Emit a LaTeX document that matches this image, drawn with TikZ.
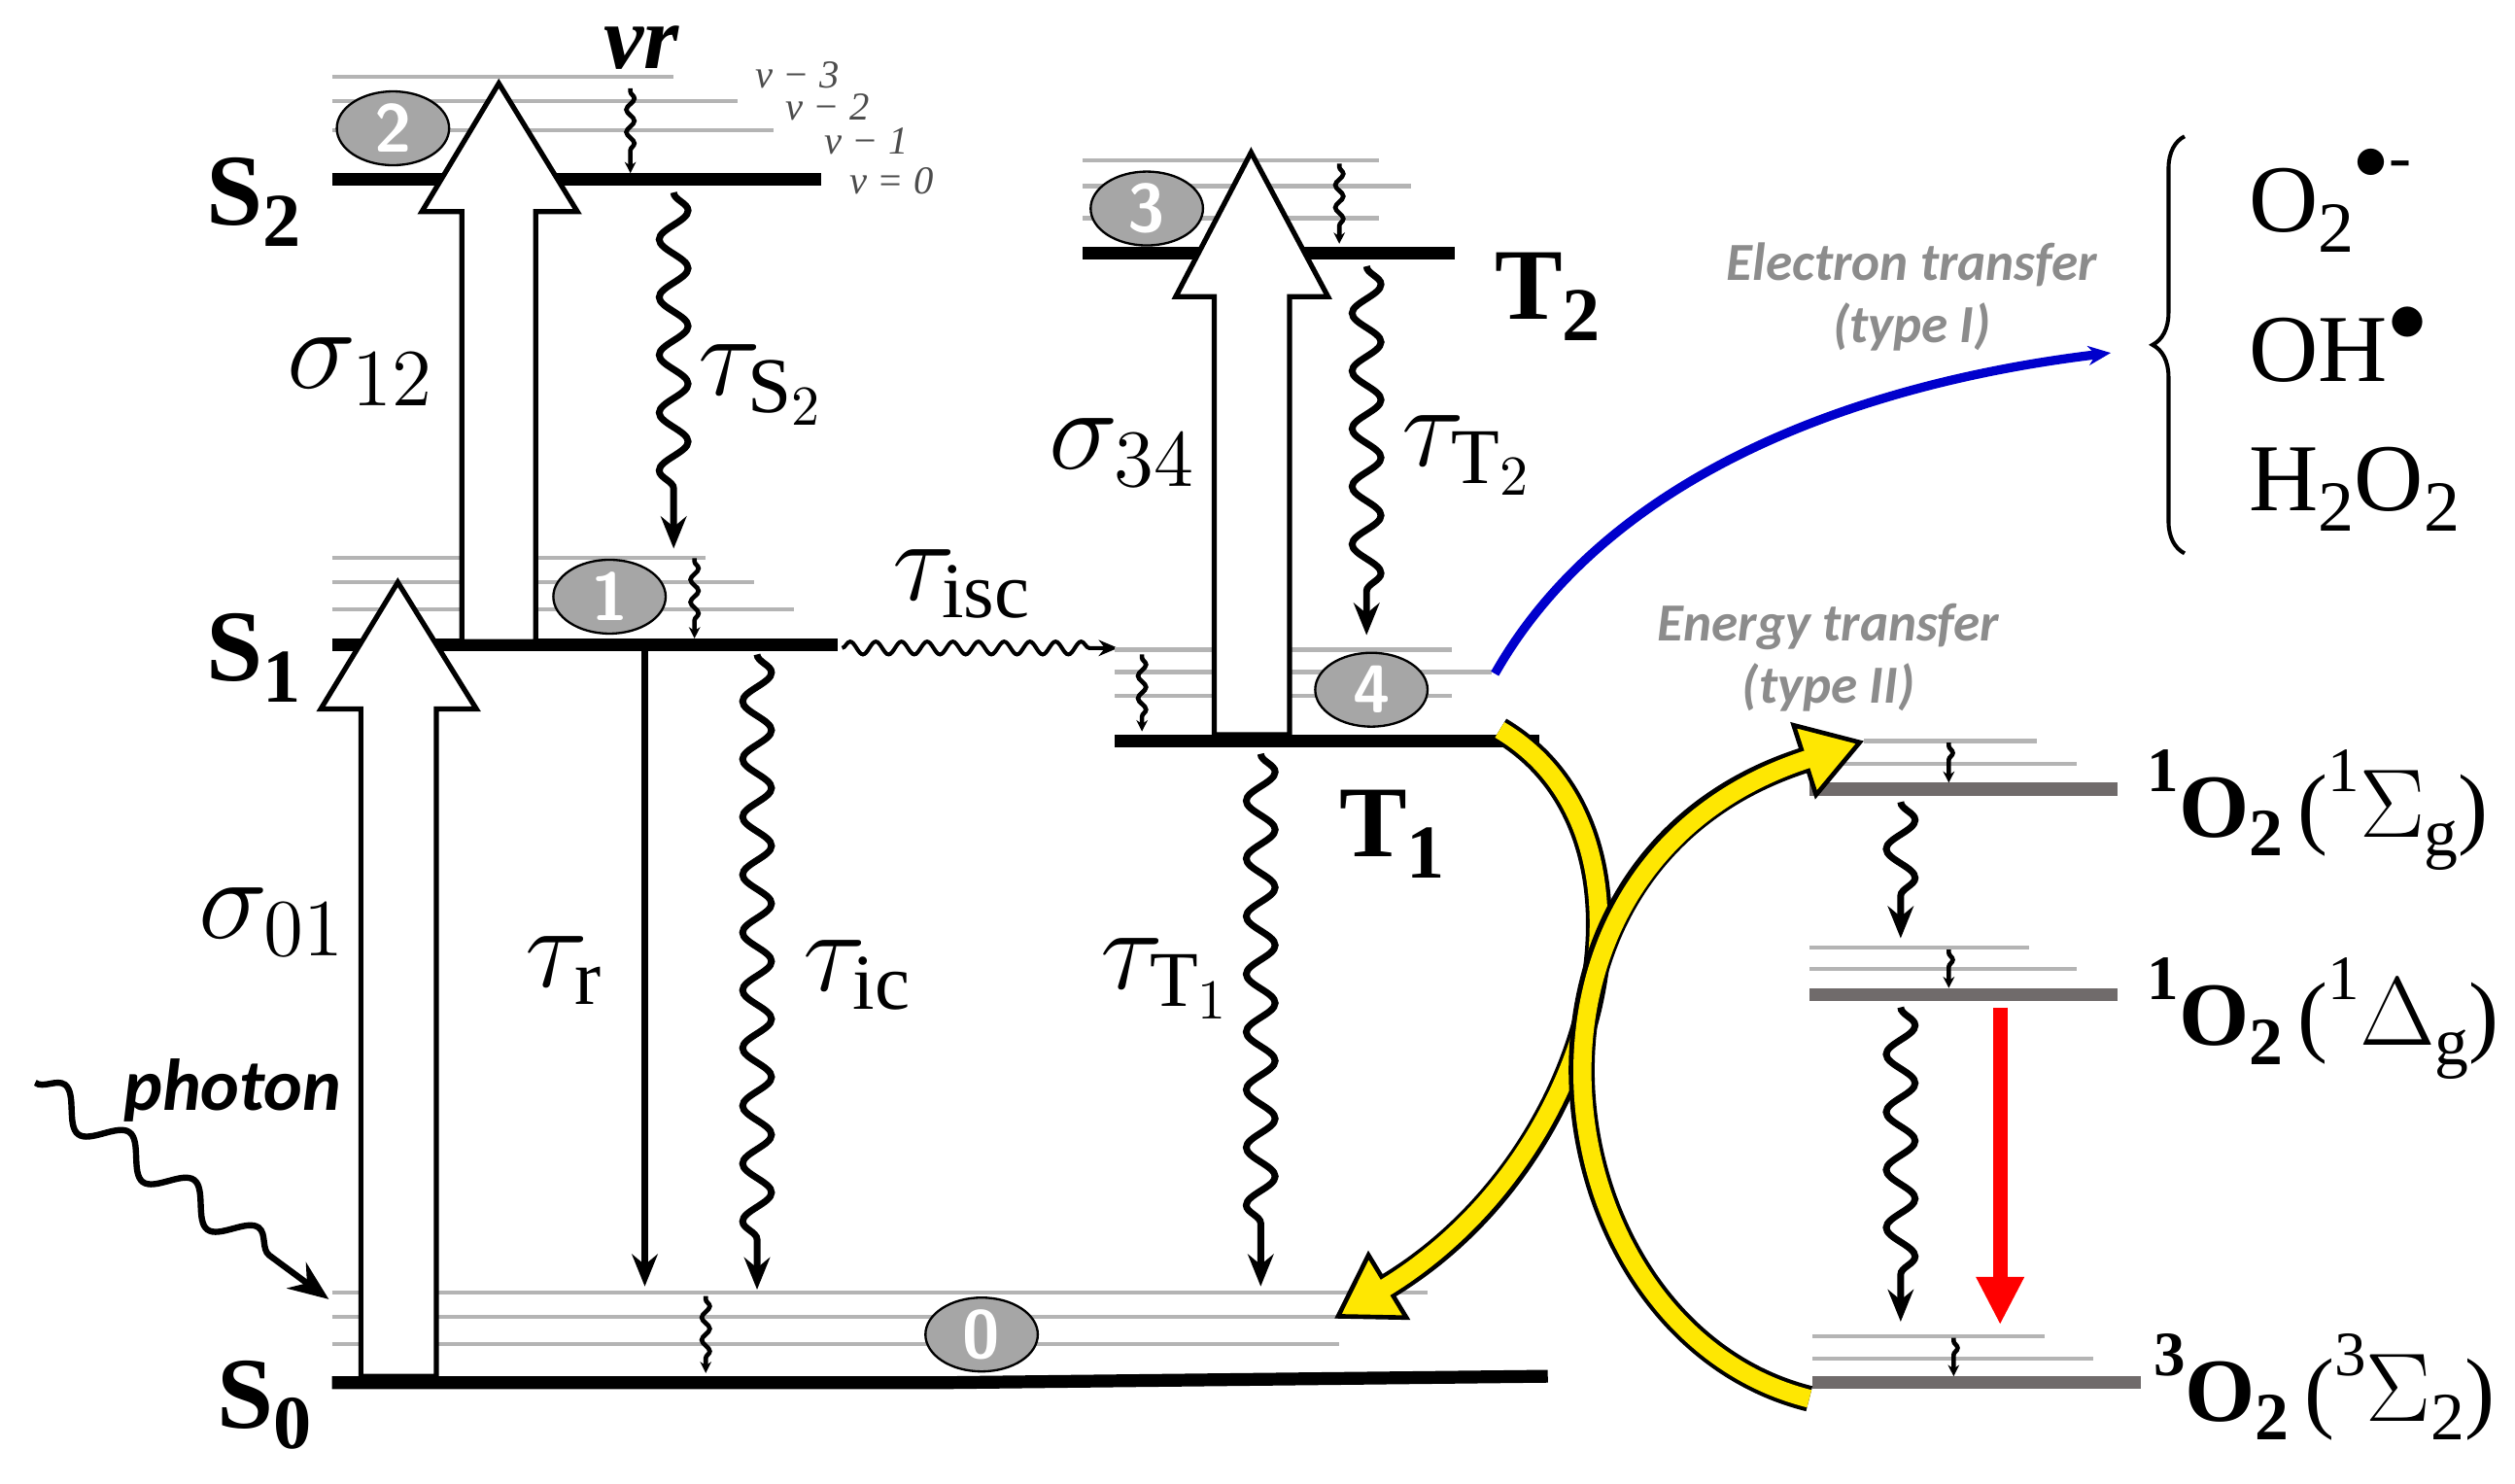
\documentclass[tikz,border=0pt]{standalone}
\usepackage{fontspec}
\setmainfont{Liberation Serif}
\newfontfamily\carl{Carlito}
\usetikzlibrary{decorations.pathmorphing,decorations.pathreplacing,arrows.meta,shapes.geometric}
\newcommand\lsub[1]{\raisebox{-0.45ex}{\scalebox{0.75}{#1}}}
\newcommand\lsup[1]{\raisebox{1.1ex}{\scalebox{0.7}{#1}}}
\definecolor{og}{HTML}{706B6B}
\definecolor{lg}{HTML}{B4B4B4}
\definecolor{tg}{HTML}{8C8C8C}
\definecolor{cg}{HTML}{A6A6A6}
\begin{document}
\begin{tikzpicture}[x=0.01cm,y=-0.01cm,
 lvl/.style={line width=0.08cm},
 olvl/.style={og,line width=0.08cm},
 sub/.style={lg,line width=0.025cm},
 big/.style={draw=black,fill=white,line width=0.9pt},
 circ/.style={ellipse,draw=black,fill=cg,inner sep=0pt,minimum width=0.7cm,minimum height=0.46cm,text=white,font=\sffamily\bfseries\fontsize{12}{12}\selectfont},
 wave/.style={decorate,decoration={snake,amplitude=0.09cm,segment length=0.36cm,post length=0.22cm},line width=1.2pt,-{Stealth[length=0.2cm,width=0.16cm]}},
 vr/.style={decorate,decoration={snake,amplitude=0.025cm,segment length=0.14cm,post length=0.08cm,pre length=0.02cm},line width=0.8pt,-{Stealth[length=0.07cm,width=0.07cm]}},
 lab/.style={font=\bfseries\fontsize{18}{20}\selectfont},
 olab/.style={anchor=west,inner sep=0pt,font=\bfseries\fontsize{16}{18}\selectfont},
 gk/.style={font=\fontsize{20}{22}\selectfont},
 nu/.style={inner sep=0pt,font=\itshape\fontsize{7}{8}\selectfont,text=black!70},
 et/.style={font=\carl\bfseries\itshape\fontsize{9.5}{11}\selectfont,text=tg,align=center},
 yel/.style={line width=4.6pt,black},
 yelin/.style={line width=3.2pt,yellow!90!orange}
]
\useasboundingbox (0,0) rectangle (1568,925);
% ---- S2
\draw[sub] (207,48) -- (420,48); \draw[sub] (207,63) -- (460,63); \draw[sub] (207,81) -- (482,81);
\draw[lvl] (207,112) -- (512,112);
\node[nu] (n3) at (497,47) {ν − 3};
\node[nu] (n2) at (516,67) {ν − 2};
\node[nu] (n1) at (540,88) {ν − 1};
\node[nu] (n0) at (556,113) {ν = 0};
\node (vrl) at (400,30) {\bfseries\itshape\fontsize{16}{16}\selectfont vr};
\draw[vr] (393,55) -- (393,108);
\node[circ] (c2) at (245,80) {2};
\node[lab] (S2) at (158,126) {S\lsub{2}};
% ---- S1
\draw[sub] (207,348) -- (440,348); \draw[sub] (207,363) -- (470,363); \draw[sub] (207,380) -- (495,380);
\draw[lvl] (207,402) -- (522,402);
\draw[vr] (433,348) -- (433,398);
\node[lab] (S1) at (158,410) {S\lsub{1}};
% ---- S0
\draw[sub] (207,806) -- (890,806); \draw[sub] (207,821) -- (870,821); \draw[sub] (207,838) -- (835,838);
\draw[lvl] (207,862) -- (590,862) -- (965,858);
\draw[vr] (440,808) -- (440,856);
\node[lab] (S0) at (165,876) {S\lsub{0}};
\node[circ] (c0) at (612,832) {0};
% ---- sigma01 arrow
\draw[big] (225,858) -- (225,442) -- (200,442) -- (248,363) -- (297,442) -- (272,442) -- (272,858) -- cycle;
% ---- sigma12 arrow
\draw[big] (288,400) -- (288,132) -- (263,132) -- (311,52) -- (360,132) -- (334,132) -- (334,400) -- cycle;
\node[circ] (c1) at (380,372) {1};
\node[gk] (s12) at (225,232) {$\sigma_{12}$};
\node[gk] (s01) at (170,575) {$\sigma_{01}$};
% ---- S1/S2 processes
\coordinate (a1) at (420,120); \coordinate (a2) at (420,342);
\draw[wave] (a1) -- (a2);
\node[gk] (tS2) at (475,240) {$\tau_{\mathrm{S}_2}$};
\coordinate (r1) at (402,406); \coordinate (r2) at (402,802);
\draw[line width=1.2pt,-{Stealth[length=0.2cm,width=0.16cm]}] (r1) -- (r2);
\node[gk] (tr) at (352,605) {$\tau_{\mathrm{r}}$};
\coordinate (i1) at (472,408); \coordinate (i2) at (472,804);
\draw[wave] (i1) -- (i2);
\node[gk] (tic) at (535,608) {$\tau_{\mathrm{ic}}$};
\coordinate (s1) at (525,404); \coordinate (s2) at (697,404);
\draw[decorate,decoration={snake,amplitude=0.04cm,segment length=0.16cm,post length=0.12cm},line width=0.7pt,-{Stealth[length=0.12cm,width=0.1cm]}] (s1) -- (s2);
\node[gk] (tisc) at (600,364) {$\tau_{\mathrm{isc}}$};
% ---- photon
\coordinate (p1) at (22,675); \coordinate (p2) at (205,810);
\draw[decorate,decoration={snake,amplitude=0.1cm,segment length=0.5cm,post length=0.3cm},line width=1.1pt,-{Stealth[length=0.25cm,width=0.2cm]}] (p1) -- (p2);
\node (ph) at (145,680) {\carl\bfseries\itshape\fontsize{13}{14}\selectfont photon};
% ---- T2
\draw[sub] (675,100) -- (860,100); \draw[sub] (675,116) -- (880,116); \draw[sub] (675,136) -- (860,136);
\draw[lvl] (675,158) -- (907,158);
\draw[vr] (835,102) -- (835,152);
\node[lab] (T2) at (965,185) {T\lsub{2}};
% ---- T1
\draw[sub] (695,405) -- (905,405); \draw[sub] (695,419) -- (930,419); \draw[sub] (695,434) -- (905,434);
\draw[lvl] (695,462) -- (960,462);
\draw[vr] (712,408) -- (712,456);
\node[lab] (T1) at (868,520) {T\lsub{1}};
% ---- sigma34 arrow
\draw[big] (757,458) -- (757,185) -- (733,185) -- (780,95) -- (828,185) -- (804,185) -- (804,458) -- cycle;
\node[circ] (c3) at (715,130) {3};
\node[circ] (c4) at (855,430) {4};
\node[gk] (s34) at (700,282) {$\sigma_{34}$};
\coordinate (t21) at (852,166); \coordinate (t22) at (852,396);
\draw[wave] (t21) -- (t22);
\node[gk] (tT2) at (915,284) {$\tau_{\mathrm{T}_2}$};
\coordinate (t11) at (786,470); \coordinate (t12) at (786,802);
\draw[wave] (t11) -- (t12);
\node[gk] (tT1) at (727,610) {$\tau_{\mathrm{T}_1}$};
% ---- electron transfer
\coordinate (b1) at (932,420); \coordinate (b2) at (1316,220);
\draw[blue!80!black,line width=1.6pt,-{Stealth[length=0.14cm,width=0.12cm]}] (b1) .. controls (1000,300) and (1150,240) .. (b2);
\node[et] (etl) at (1192,185) {Electron transfer\\(type I)};
\draw[decorate,decoration={brace,amplitude=0.2cm},line width=0.7pt] (1362,345) -- (1362,85);
\node[anchor=west,font=\fontsize{17}{18}\selectfont] (o2r) at (1390,125) {O\lsub{2}\raisebox{1.2ex}{\scalebox{0.7}{$\bullet$-}}};
\node[anchor=west,font=\fontsize{17}{18}\selectfont] (oh) at (1390,215) {OH\raisebox{0.9ex}{\scalebox{0.8}{$\bullet$}}};
\node[anchor=west,font=\fontsize{17}{18}\selectfont] (h2o2) at (1390,305) {H\lsub{2}O\lsub{2}};
% ---- energy transfer
\node[et] (enl) at (1140,410) {Energy transfer\\(type II)};
% O2 levels
\draw[sub] (1162,462) -- (1270,462); \draw[sub] (1128,476) -- (1295,476);
\draw[olvl] (1128,492) -- (1320,492);
\draw[vr] (1215,463) -- (1215,488);
\node[olab] (sg) at (1338,505) {\lsup{1}O\lsub{2}\mdseries\,(\lsup{1}$\Sigma$\lsub{g})};
\draw[sub] (1128,591) -- (1265,591); \draw[sub] (1128,604) -- (1295,604);
\draw[olvl] (1128,620) -- (1320,620);
\draw[vr] (1215,592) -- (1215,616);
\node[olab] (dg) at (1338,635) {\lsup{1}O\lsub{2}\mdseries\,(\lsup{1}$\Delta$\lsub{g})};
\draw[sub] (1130,833) -- (1275,833); \draw[sub] (1130,847) -- (1305,847);
\draw[olvl] (1130,862) -- (1335,862);
\draw[vr] (1218,834) -- (1218,858);
\node[olab] (tsg) at (1342,865) {\lsup{3}O\lsub{2}\mdseries\,(\lsup{3}$\Sigma$\lsub{2})};
\coordinate (w1) at (1185,500); \coordinate (w2) at (1185,585);
\draw[wave] (w1) -- (w2);
\coordinate (w3) at (1185,628); \coordinate (w4) at (1185,824);
\draw[wave] (w3) -- (w4);
\coordinate (rd1) at (1247,628); \coordinate (rd2) at (1247,826);
\draw[red,line width=2.6pt,-{Triangle[length=0.3cm,width=0.28cm]}] (rd1) -- (rd2);
% ---- yellow arrows
\coordinate (y1) at (935,455); \coordinate (y2) at (832,822);
\coordinate (y3) at (1128,872); \coordinate (y4) at (1162,462);
\draw[yel,-{Triangle[length=0.4cm,width=0.5cm,line width=0.8pt,fill=yellow!90!orange]}] (y1) .. controls (1045,520) and (1000,720) .. (y2);
\draw[yelin,shorten >=0.36cm] (y1) .. controls (1045,520) and (1000,720) .. (y2);
\draw[yel,-{Triangle[length=0.4cm,width=0.5cm,line width=0.8pt,fill=yellow!90!orange]}] (y3) .. controls (960,830) and (920,540) .. (y4);
\draw[yelin,shorten >=0.36cm] (y3) .. controls (960,830) and (920,540) .. (y4);
\end{tikzpicture}
\end{document}
